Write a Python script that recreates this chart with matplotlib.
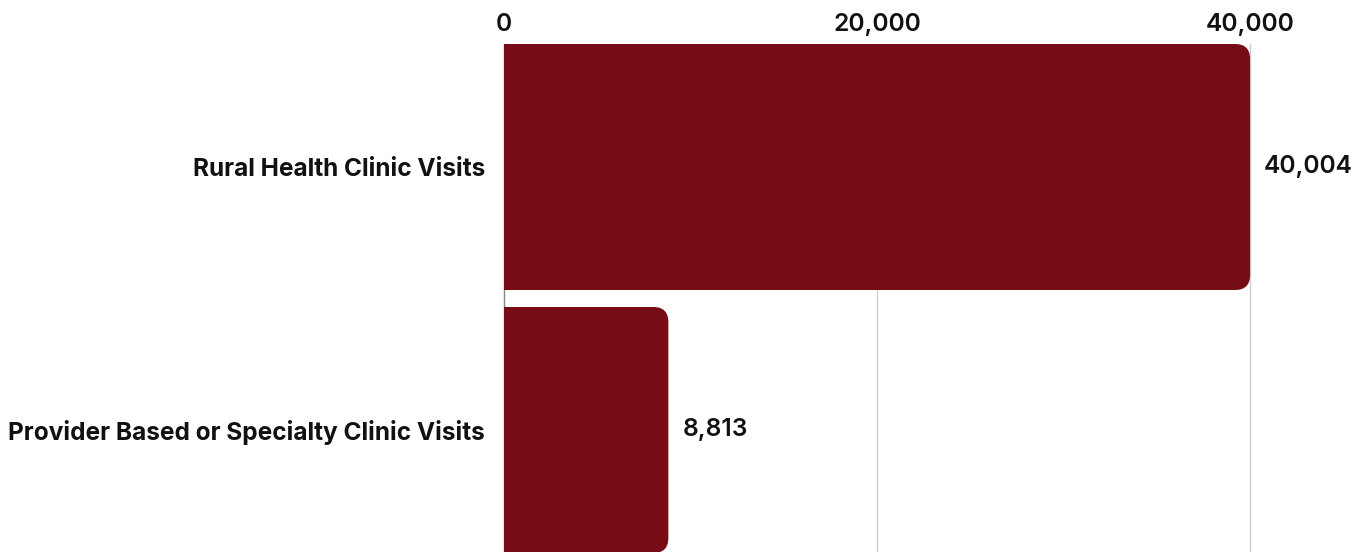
import matplotlib
matplotlib.use("Agg")
import matplotlib.pyplot as plt
from matplotlib.patches import FancyBboxPatch, Rectangle
from matplotlib.ticker import FuncFormatter

categories = ["Rural Health Clinic Visits", "Provider Based or Specialty Clinic Visits"]
values = [40004, 8813]
ticks = [0, 20000, 40000]

W, H, DPI = 1369, 552, 100
BAR_COLOR = "#750c16"
FONT = ["Inter", "DejaVu Sans"]
FS_CAT = 17.6
FS_NUM = 17.7

fig = plt.figure(figsize=(W / DPI, H / DPI), dpi=DPI)
left_px, right_px = 504, 1250
top_px, bot_px = 44, 552
ax = fig.add_axes([left_px / W, 1 - bot_px / H, (right_px - left_px) / W, (bot_px - top_px) / H])

band_px = 263
bar_h = 246 / band_px
y_top = -bar_h / 2
y_bot = y_top + (bot_px - top_px) / band_px
ax.set_xlim(0, 40000)
ax.set_ylim(y_bot, y_top)

bars = ax.barh(range(len(categories)), values, height=bar_h, color=BAR_COLOR, alpha=0)

px_x = 40000 / (right_px - left_px)
px_y = 1 / band_px
r_px = 15
for b in bars:
    x0, y0 = b.get_x(), b.get_y()
    w, h = b.get_width(), b.get_height()
    rp = FancyBboxPatch((x0, y0), w, h,
                        boxstyle=f"round,pad=0,rounding_size={r_px * px_x}",
                        mutation_aspect=px_y / px_x,
                        facecolor=BAR_COLOR, edgecolor="none", zorder=3, clip_on=False)
    ax.add_patch(rp)
    ax.add_patch(Rectangle((x0, y0), w / 2, h, facecolor=BAR_COLOR, edgecolor="none",
                           zorder=3, clip_on=False))

for i, v in enumerate(values):
    ax.text(v + 14 * px_x, i, f"{v:,}", va="center", ha="left", fontsize=FS_NUM,
            fontweight="semibold", family=FONT, color="#111111", zorder=4)

ax.xaxis.tick_top()
ax.set_xticks(ticks)
ax.xaxis.set_major_formatter(FuncFormatter(lambda x, p: f"{int(x):,}"))
ax.tick_params(axis="x", length=0, pad=6, labelsize=FS_NUM, labelcolor="#111111")
for lab in ax.get_xticklabels():
    lab.set_fontweight("semibold")
    lab.set_family(FONT)
ax.set_yticks(range(len(categories)))
ax.set_yticklabels(categories)
ax.tick_params(axis="y", length=0, pad=13.5, labelsize=FS_CAT, labelcolor="#111111")
for lab in ax.get_yticklabels():
    lab.set_fontweight("bold")
    lab.set_family(FONT)

for t in ticks:
    ax.axvline(t, color="#888888" if t == 0 else "#cccccc", lw=1, zorder=1, clip_on=False)
for s in ax.spines.values():
    s.set_visible(False)

fig.savefig("out.png", dpi=DPI)
